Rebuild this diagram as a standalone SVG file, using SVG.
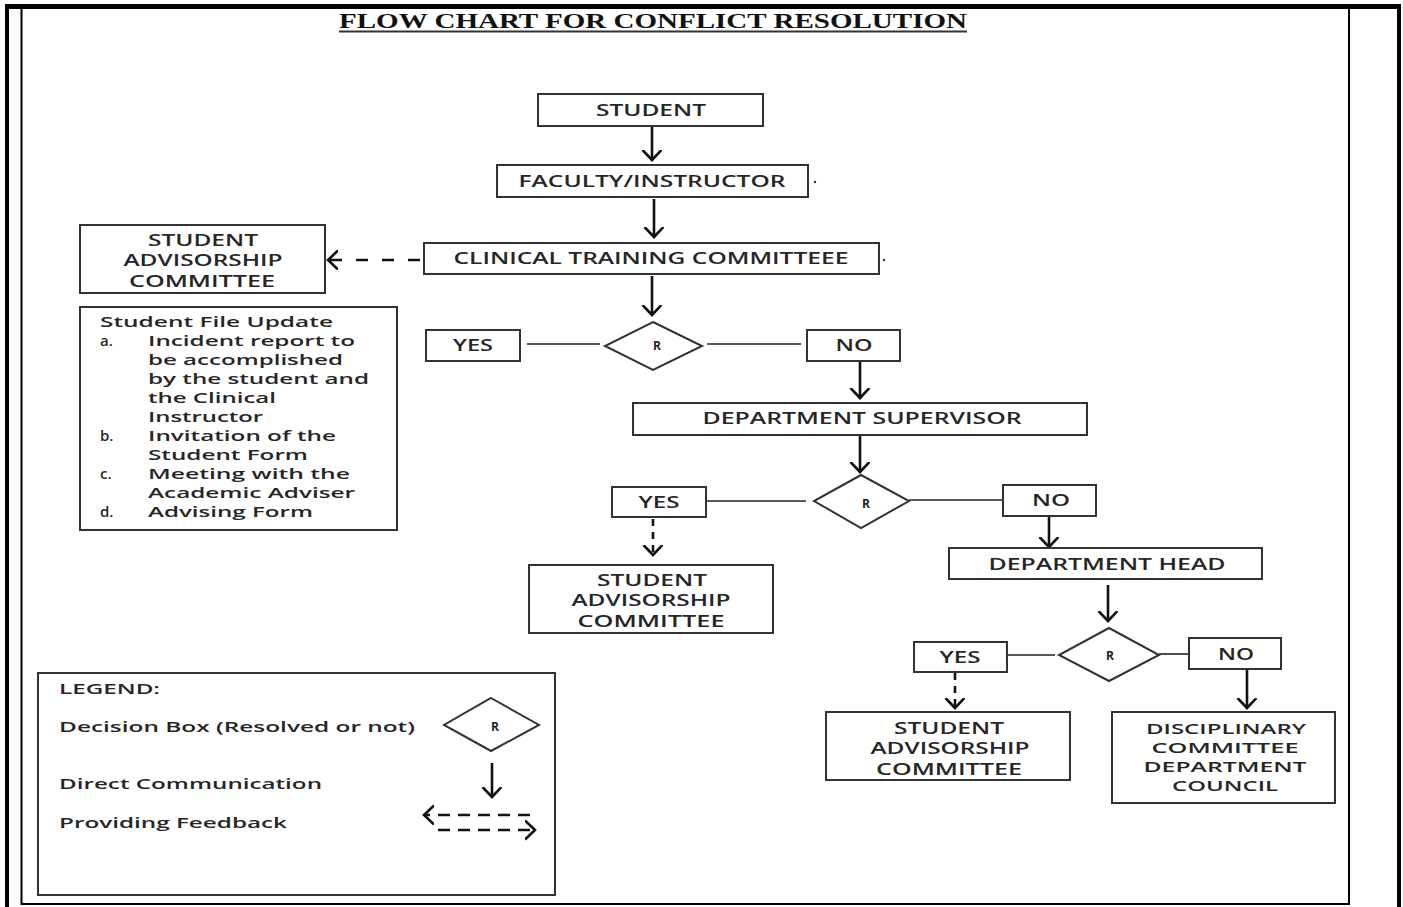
<svg xmlns="http://www.w3.org/2000/svg" width="1403" height="907" viewBox="0 0 1403 907">
<defs>
<style>
.box{fill:#fff;stroke:#333;stroke-width:2}
.t{font-family:"Open Sans","DejaVu Sans",sans-serif;font-size:16px;font-weight:600;fill:#262626;text-anchor:middle}
.s{font-size:15px}
.l{font-family:"Open Sans","DejaVu Sans",sans-serif;font-size:15px;font-weight:600;fill:#262626}
.r{font-family:"Open Sans","DejaVu Sans",sans-serif;font-size:12px;font-weight:bold;fill:#222;text-anchor:middle}
.arr{stroke:#111;stroke-width:2.6;fill:none;marker-end:url(#ah)}
.dash{stroke-dasharray:7 6}
.link{stroke:#222;stroke-width:1.6;fill:none}
.frame{stroke:#000;fill:none}
</style>
<marker id="ah" markerWidth="22" markerHeight="22" refX="10" refY="10" orient="auto" markerUnits="userSpaceOnUse">
<path d="M0,0.5 L10,10 L0,19.5" fill="none" stroke="#111" stroke-width="2.6"/>
</marker>
</defs>

<g id="frame">
<line class="frame" x1="5" y1="6.5" x2="1401" y2="6.5" stroke-width="5"/>
<line class="frame" x1="7" y1="4" x2="7" y2="907" stroke-width="4"/>
<line class="frame" x1="1399" y1="4" x2="1399" y2="907" stroke-width="4"/>
<line class="frame" x1="21.5" y1="9" x2="21.5" y2="905" stroke-width="2"/>
<line class="frame" x1="1349" y1="9" x2="1349" y2="905" stroke-width="2"/>
<line class="frame" x1="21" y1="904" x2="1350" y2="904" stroke-width="2"/>
</g>

<g id="title">
<text x="339" y="28" font-family="Liberation Serif, serif" font-weight="bold" font-size="22" fill="#111" textLength="628" lengthAdjust="spacingAndGlyphs">FLOW CHART FOR CONFLICT RESOLUTION</text>
<line x1="339" y1="31.5" x2="967" y2="31.5" stroke="#333" stroke-width="2"/>
</g>

<g id="connectors">
<line class="arr" x1="652" y1="127" x2="652" y2="160"/>
<line class="arr" x1="654" y1="199" x2="654" y2="237"/>
<line class="arr" x1="652" y1="276" x2="652" y2="315"/>
<line class="link" x1="527" y1="344" x2="600" y2="344"/>
<line class="link" x1="707" y1="344" x2="801" y2="344"/>
<line class="arr" x1="860" y1="362" x2="860" y2="398"/>
<line class="arr" x1="860" y1="436" x2="860" y2="472"/>
<line class="link" x1="706" y1="501" x2="806" y2="501"/>
<line class="link" x1="909" y1="500" x2="1003" y2="500"/>
<line class="arr dash" x1="653" y1="519" x2="653" y2="555"/>
<line class="arr" x1="1049" y1="516" x2="1049" y2="547"/>
<line class="arr" x1="1108" y1="585" x2="1108" y2="621"/>
<line class="link" x1="1007" y1="655" x2="1055" y2="655"/>
<line class="link" x1="1159" y1="654" x2="1189" y2="654"/>
<line class="arr dash" x1="955" y1="673" x2="955" y2="708"/>
<line class="arr" x1="1247" y1="670" x2="1247" y2="708"/>
<line class="arr" x1="424" y1="260" x2="328" y2="260" stroke-dasharray="0 4 12 10"/>
<circle cx="815" cy="182" r="1.2" fill="#333"/>
<circle cx="884" cy="260" r="1.2" fill="#333"/>
</g>

<g id="student">
<rect class="box" x="538" y="94" width="225" height="32"/>
<text class="t" x="651" y="116" textLength="110" lengthAdjust="spacingAndGlyphs">STUDENT</text>
</g>
<g id="faculty">
<rect class="box" x="497" y="165" width="311" height="32"/>
<text class="t" x="652" y="187" textLength="267" lengthAdjust="spacingAndGlyphs">FACULTY/INSTRUCTOR</text>
</g>
<g id="ctc">
<rect class="box" x="424" y="243" width="455" height="31"/>
<text class="t" x="651" y="264" textLength="395" lengthAdjust="spacingAndGlyphs">CLINICAL TRAINING COMMITTEEE</text>
</g>
<g id="sac1">
<rect class="box" x="80" y="225" width="245" height="68"/>
<text class="t" x="203" y="246" textLength="110" lengthAdjust="spacingAndGlyphs">STUDENT</text>
<text class="t" x="203" y="266" textLength="159" lengthAdjust="spacingAndGlyphs">ADVISORSHIP</text>
<text class="t" x="202" y="287" textLength="146" lengthAdjust="spacingAndGlyphs">COMMITTEE</text>
</g>
<g id="fileupdate">
<rect class="box" x="80" y="307" width="317" height="223"/>
<text class="l" x="100" y="327" textLength="233" lengthAdjust="spacingAndGlyphs">Student File Update</text>
<text class="l" x="100" y="346">a.</text>
<text class="l" x="148" y="346" textLength="207" lengthAdjust="spacingAndGlyphs">Incident report to</text>
<text class="l" x="148" y="365" textLength="195" lengthAdjust="spacingAndGlyphs">be accomplished</text>
<text class="l" x="148" y="384" textLength="221" lengthAdjust="spacingAndGlyphs">by the student and</text>
<text class="l" x="148" y="403" textLength="128" lengthAdjust="spacingAndGlyphs">the Clinical</text>
<text class="l" x="148" y="422" textLength="115" lengthAdjust="spacingAndGlyphs">Instructor</text>
<text class="l" x="100" y="441">b.</text>
<text class="l" x="148" y="441" textLength="188" lengthAdjust="spacingAndGlyphs">Invitation of the</text>
<text class="l" x="148" y="460" textLength="160" lengthAdjust="spacingAndGlyphs">Student Form</text>
<text class="l" x="100" y="479">c.</text>
<text class="l" x="148" y="479" textLength="202" lengthAdjust="spacingAndGlyphs">Meeting with the</text>
<text class="l" x="148" y="498" textLength="207" lengthAdjust="spacingAndGlyphs">Academic Adviser</text>
<text class="l" x="100" y="517">d.</text>
<text class="l" x="148" y="517" textLength="165" lengthAdjust="spacingAndGlyphs">Advising Form</text>
</g>

<g id="yes1">
<rect class="box" x="426" y="330" width="94" height="31"/>
<text class="t" x="473" y="351" textLength="40" lengthAdjust="spacingAndGlyphs">YES</text>
</g>
<g id="r1">
<polygon class="box" points="653,322 702,346 653,370 605,346"/>
<text class="r" x="657" y="350">R</text>
</g>
<g id="no1">
<rect class="box" x="807" y="330" width="93" height="31"/>
<text class="t" x="854" y="351" textLength="37" lengthAdjust="spacingAndGlyphs">NO</text>
</g>
<g id="supervisor">
<rect class="box" x="633" y="403" width="454" height="32"/>
<text class="t" x="862" y="424" textLength="319" lengthAdjust="spacingAndGlyphs">DEPARTMENT SUPERVISOR</text>
</g>
<g id="yes2">
<rect class="box" x="612" y="487" width="94" height="30"/>
<text class="t" x="659" y="508" textLength="41" lengthAdjust="spacingAndGlyphs">YES</text>
</g>
<g id="r2">
<polygon class="box" points="861,475 909,501 861,528 814,501"/>
<text class="r" x="866" y="508">R</text>
</g>
<g id="no2">
<rect class="box" x="1003" y="485" width="93" height="31"/>
<text class="t" x="1051" y="506" textLength="38" lengthAdjust="spacingAndGlyphs">NO</text>
</g>
<g id="sac2">
<rect class="box" x="529" y="565" width="244" height="68"/>
<text class="t" x="652" y="586" textLength="110" lengthAdjust="spacingAndGlyphs">STUDENT</text>
<text class="t" x="651" y="606" textLength="159" lengthAdjust="spacingAndGlyphs">ADVISORSHIP</text>
<text class="t" x="651" y="627" textLength="147" lengthAdjust="spacingAndGlyphs">COMMITTEE</text>
</g>
<g id="depthead">
<rect class="box" x="949" y="548" width="313" height="31"/>
<text class="t" x="1107" y="570" textLength="237" lengthAdjust="spacingAndGlyphs">DEPARTMENT HEAD</text>
</g>
<g id="yes3">
<rect class="box" x="914" y="642" width="93" height="30"/>
<text class="t" x="960" y="663" textLength="41" lengthAdjust="spacingAndGlyphs">YES</text>
</g>
<g id="r3">
<polygon class="box" points="1109,628 1159,655 1109,681 1059,655"/>
<text class="r" x="1110" y="660">R</text>
</g>
<g id="no3">
<rect class="box" x="1189" y="638" width="92" height="31"/>
<text class="t" x="1236" y="660" textLength="36" lengthAdjust="spacingAndGlyphs">NO</text>
</g>
<g id="sac3">
<rect class="box" x="826" y="712" width="244" height="68"/>
<text class="t" x="949" y="734" textLength="110" lengthAdjust="spacingAndGlyphs">STUDENT</text>
<text class="t" x="950" y="754" textLength="159" lengthAdjust="spacingAndGlyphs">ADVISORSHIP</text>
<text class="t" x="949" y="775" textLength="146" lengthAdjust="spacingAndGlyphs">COMMITTEE</text>
</g>
<g id="disciplinary">
<rect class="box" x="1112" y="712" width="223" height="91"/>
<text class="t s" x="1226" y="734" textLength="160" lengthAdjust="spacingAndGlyphs">DISCIPLINARY</text>
<text class="t s" x="1225" y="753" textLength="147" lengthAdjust="spacingAndGlyphs">COMMITTEE</text>
<text class="t s" x="1225" y="772" textLength="163" lengthAdjust="spacingAndGlyphs">DEPARTMENT</text>
<text class="t s" x="1225" y="791" textLength="106" lengthAdjust="spacingAndGlyphs">COUNCIL</text>
</g>

<g id="legend">
<rect class="box" x="38" y="673" width="517" height="222"/>
<text class="l" x="59" y="694" textLength="101" lengthAdjust="spacingAndGlyphs">LEGEND:</text>
<text class="l" x="59" y="732" textLength="356" lengthAdjust="spacingAndGlyphs">Decision Box (Resolved or not)</text>
<text class="l" x="59" y="789" textLength="263" lengthAdjust="spacingAndGlyphs">Direct Communication</text>
<text class="l" x="59" y="828" textLength="228" lengthAdjust="spacingAndGlyphs">Providing Feedback</text>
<polygon class="box" points="491,698 539,725 491,751 444,725"/>
<text class="r" x="495" y="731">R</text>
<line class="arr" x1="492" y1="763" x2="492" y2="797"/>
<line class="arr" x1="530" y1="815" x2="424" y2="815" stroke-dasharray="12 8"/>
<line class="arr" x1="438" y1="830" x2="535" y2="830" stroke-dasharray="12 8"/>
</g>
</svg>
